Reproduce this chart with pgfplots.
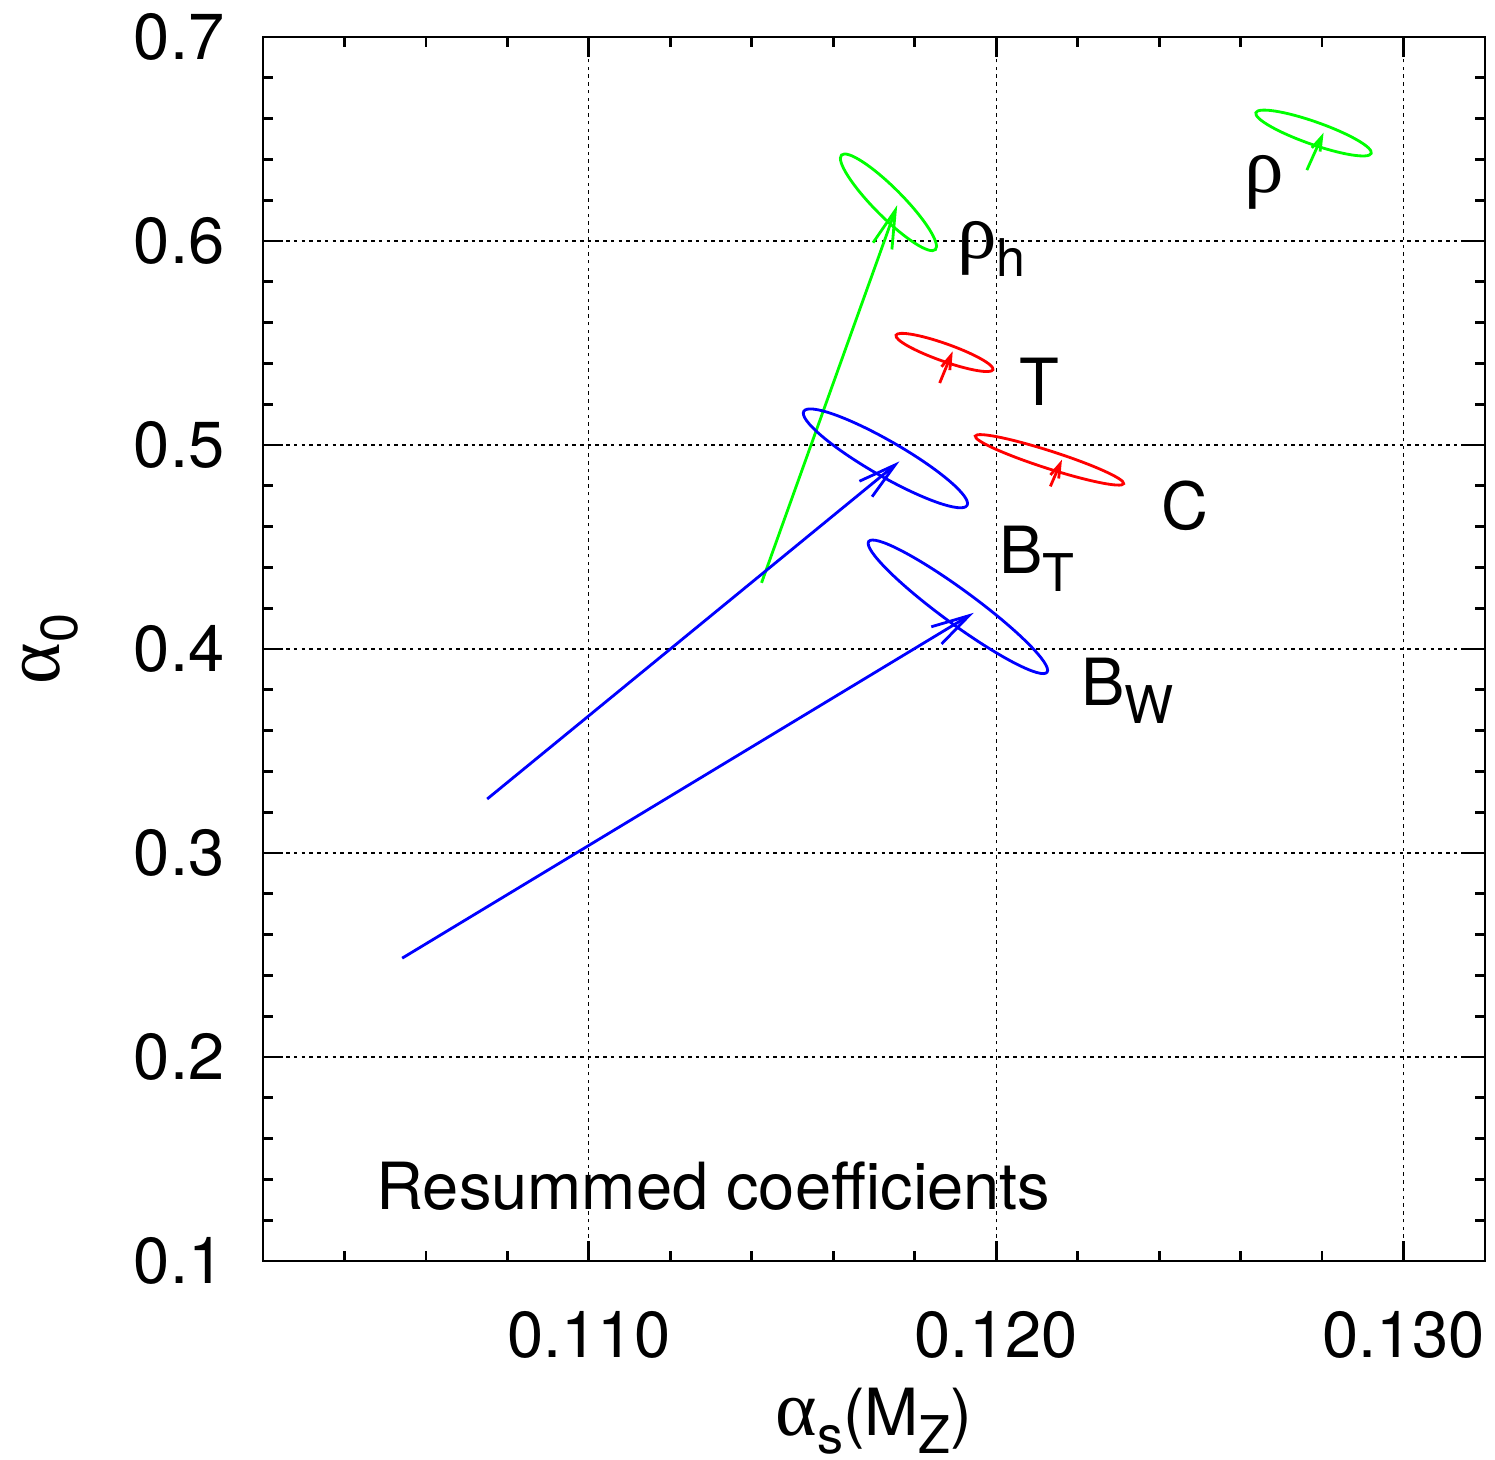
\documentclass[border=0pt]{standalone}
\usepackage{fontspec}
\setmainfont{TeX Gyre Heros}
\newfontfamily\greekfont{Liberation Serif}
\usepackage{pgfplots}
\pgfplotsset{compat=1.18}
\usetikzlibrary{arrows.meta}

% Greek letters, set a little larger than the Latin text
\newcommand{\gr}[1]{{\greekfont\fontsize{22.5pt}{24pt}\selectfont #1}}
% lowered, smaller text for indices
\newcommand{\sub}[1]{\raisebox{-0.28em}{\fontsize{14.8pt}{16pt}\selectfont #1}}
% contour ellipse: style, centre (cx,cy), conjugate semi-axes (ax,ay) and (bx,by), all in data units
\newcommand{\contour}[7]{%
  \pgfplotsextra{%
    \begin{scope}[#1, line width=0.8pt]
      \pgfpathellipse{\pgfplotspointaxisxy{#2}{#3}}%
        {\pgfplotspointaxisdirectionxy{#4}{#5}}%
        {\pgfplotspointaxisdirectionxy{#6}{#7}}%
      \pgfusepath{stroke}
    \end{scope}}}

\tikzset{
  longhead/.style={-{Straight Barb[length=0.38cm, width=0.2cm]}},
  shorthead/.style={-{Straight Barb[length=0.14cm, width=0.09cm]}},
}

\begin{document}
\fontsize{18.5pt}{22pt}\selectfont
\begin{tikzpicture}
\begin{axis}[
  scale only axis, width=12.22cm, height=12.24cm,
  xmin=0.102, xmax=0.132, ymin=0.1, ymax=0.7,
  xtick={0.110,0.120,0.130},
  ytick={0.1,0.2,0.3,0.4,0.5,0.6,0.7},
  minor xtick={0.104,0.106,0.108,0.112,0.114,0.116,0.118,0.122,0.124,0.126,0.128},
  minor ytick={0.12,0.14,0.16,0.18,0.22,0.24,0.26,0.28,0.32,0.34,0.36,0.38,0.42,0.44,0.46,0.48,0.52,0.54,0.56,0.58,0.62,0.64,0.66,0.68},
  grid=major,
  major grid style={black, line width=0.35pt, dash pattern=on 1pt off 1.2pt},
  tick align=inside,
  major tick length=0.2cm, minor tick length=0.1cm,
  every tick/.style={black, line width=0.8pt},
  axis line style={line width=0.8pt},
  scaled ticks=false,
  /pgf/number format/assume math mode=true,
  x tick label style={/pgf/number format/fixed, /pgf/number format/fixed zerofill,
                      /pgf/number format/precision=3, inner sep=0pt, yshift=-0.5cm},
  y tick label style={/pgf/number format/fixed, /pgf/number format/fixed zerofill,
                      /pgf/number format/precision=1, inner sep=0pt, xshift=-0.38cm},
  xlabel={\gr{α}\sub{s}(M\sub{Z})},
  ylabel={\gr{α}\sub{0}},
  every axis x label/.style={at={(axis description cs:0.5,-0.1425)}, anchor=base, inner sep=0pt},
  every axis y label/.style={at={(axis description cs:-0.1665,0.5)}, rotate=90, anchor=base, inner sep=0pt},
]
\coordinate (bbSW) at (rel axis cs:-0.2152,-0.1622);
\coordinate (bbNE) at (rel axis cs:1.0082,1.0302);

% rho_h and rho (green)
\addplot[green, line width=0.8pt, longhead] coordinates {(0.11424,0.43243) (0.11757,0.61757)};
\contour{green}{0.117355}{0.61894}{0.001153}{-0.02316}{0.000250}{0.00500}
\addplot[green, line width=0.8pt, shorthead] coordinates {(0.127627,0.63474) (0.128037,0.65304)};
\contour{green}{0.127791}{0.65290}{0.001416}{-0.00996}{-0.000092}{-0.00521}

% T and C (red)
\addplot[red, line width=0.8pt, shorthead] coordinates {(0.118613,0.53037) (0.118933,0.54593)};
\contour{red}{0.118731}{0.54534}{0.001190}{-0.00844}{-0.0000718}{-0.00405}
\addplot[red, line width=0.8pt, shorthead] coordinates {(0.121330,0.47969) (0.121615,0.49279)};
\contour{red}{0.121308}{0.49269}{0.001821}{-0.01168}{-0.0000656}{-0.00409}

% B_T and B_W (blue)
\addplot[blue, line width=0.8pt, longhead] coordinates {(0.107504,0.32645) (0.117625,0.49195)};
\contour{blue}{0.117281}{0.49343}{0.002005}{-0.02306}{-0.000214}{-0.00743}
\addplot[blue, line width=0.8pt, longhead] coordinates {(0.105418,0.24843) (0.119448,0.41771)};
\contour{blue}{0.119060}{0.42066}{0.002189}{-0.03204}{-0.000244}{-0.00670}

% observable names
\node[anchor=base west, inner sep=0pt] at (axis cs:0.119031,0.59156) {\gr{ρ}\sub{h}};
\node[anchor=base west, inner sep=0pt] at (axis cs:0.126074,0.62394) {\gr{ρ}};
\node[anchor=base west, inner sep=0pt] at (axis cs:0.120552,0.51943) {T};
\node[anchor=base west, inner sep=0pt] at (axis cs:0.124037,0.45859) {C};
\node[anchor=base west, inner sep=0pt] at (axis cs:0.120061,0.43700) {B\sub{T}};
\node[anchor=base west, inner sep=0pt] at (axis cs:0.122074,0.37222) {B\sub{W}};
\node[anchor=base west, inner sep=0pt] at (axis cs:0.104773,0.12541) {Resummed coefficients};
\end{axis}
\pgfresetboundingbox
\path (bbSW) rectangle (bbNE);
\end{tikzpicture}
\end{document}
